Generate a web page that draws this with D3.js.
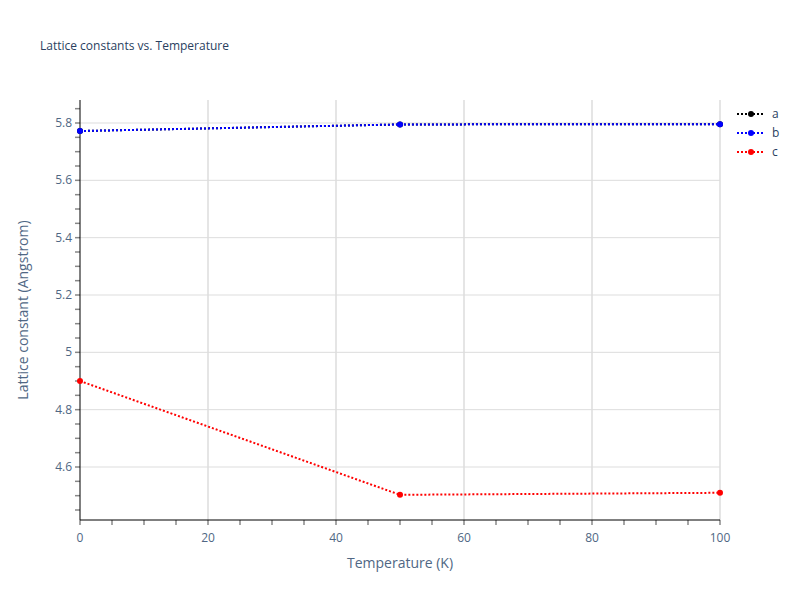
<!DOCTYPE html><html><head><script src="https://cdn.jsdelivr.net/npm/d3@7"></script>
<style>body{margin:0;background:#fff}text{font-family:"Open Sans",sans-serif}</style></head><body><svg id="c" width="800" height="600"></svg>
<script>
const temps=[0,50,100];
const aVals=[5.772,5.795,5.796];
const bVals=[5.772,5.795,5.796];
const cVals=[4.9,4.503,4.51];
const series=[{name:"a",vals:aVals,color:"#000"},{name:"b",vals:bVals,color:"#0000ff"},{name:"c",vals:cVals,color:"#ff0000"}];
const xTicks=[0,20,40,60,80,100];
const yTicks=[4.6,4.8,5,5.2,5.4,5.6,5.8];
const svg=d3.select("#c");
const L=80,R=720,T=100,B=520;
const x=d3.scaleLinear().domain([0,100]).range([L,R]);
const y=d3.scaleLinear().domain([4.6,5.8]).range([467,123]);
const col="#444";const tc="#506784";
xTicks.forEach(t=>{if(t>0)svg.append("line").attr("x1",x(t)).attr("x2",x(t)).attr("y1",T).attr("y2",B).attr("stroke","#e5e5e5").attr("stroke-width",2);});
yTicks.forEach(t=>svg.append("line").attr("x1",L).attr("x2",R).attr("y1",y(t)).attr("y2",y(t)).attr("stroke","#ddd"));
d3.range(0,101,5).forEach(t=>svg.append("line").attr("x1",x(t)).attr("x2",x(t)).attr("y1",B).attr("y2",B+5).attr("stroke","#888").attr("stroke-width",1.5));
d3.range(4.45,5.9,0.05).forEach(t=>{if(y(t)>=T&&y(t)<=B)svg.append("line").attr("x1",L-5).attr("x2",L).attr("y1",y(t)).attr("y2",y(t)).attr("stroke","#888").attr("stroke-width",1.5);});
svg.append("line").attr("x1",L).attr("x2",R).attr("y1",B).attr("y2",B).attr("stroke","#000");
svg.append("line").attr("x1",L).attr("x2",L).attr("y1",T).attr("y2",B).attr("stroke","#000");
xTicks.forEach(t=>svg.append("text").attr("x",x(t)).attr("y",B+22).attr("text-anchor","middle").attr("font-size",12).attr("fill",tc).text(t));
yTicks.forEach(t=>svg.append("text").attr("x",L-8).attr("y",y(t)+4).attr("text-anchor","end").attr("font-size",12).attr("fill",tc).text(t));
svg.append("text").attr("x",400).attr("y",568).attr("text-anchor","middle").attr("font-size",14).attr("fill",tc).text("Temperature (K)");
svg.append("text").attr("transform","translate(28,310) rotate(-90)").attr("text-anchor","middle").attr("font-size",14).attr("fill",tc).text("Lattice constant (Angstrom)");
svg.append("text").attr("x",40).attr("y",50).attr("font-size",12).attr("fill","#2a3f5f").text("Lattice constants vs. Temperature");
const line=d3.line().x((d,i)=>x(temps[i])).y(d=>y(d));
series.forEach((s,k)=>{
 svg.append("path").attr("d",line(s.vals)).attr("fill","none").attr("stroke",s.color).attr("stroke-width",2).attr("stroke-dasharray","2,2");
 s.vals.forEach((v,i)=>svg.append("circle").attr("cx",x(temps[i])).attr("cy",y(v)).attr("r",3).attr("fill",s.color));
 const ly=114+k*19;
 svg.append("line").attr("x1",737).attr("x2",765).attr("y1",ly).attr("y2",ly).attr("stroke",s.color).attr("stroke-width",2).attr("stroke-dasharray","2,2");
 svg.append("circle").attr("cx",751).attr("cy",ly).attr("r",3).attr("fill",s.color);
 svg.append("text").attr("x",772).attr("y",ly+4).attr("font-size",12).attr("fill","#2a3f5f").text(s.name);
});
</script></body></html>
